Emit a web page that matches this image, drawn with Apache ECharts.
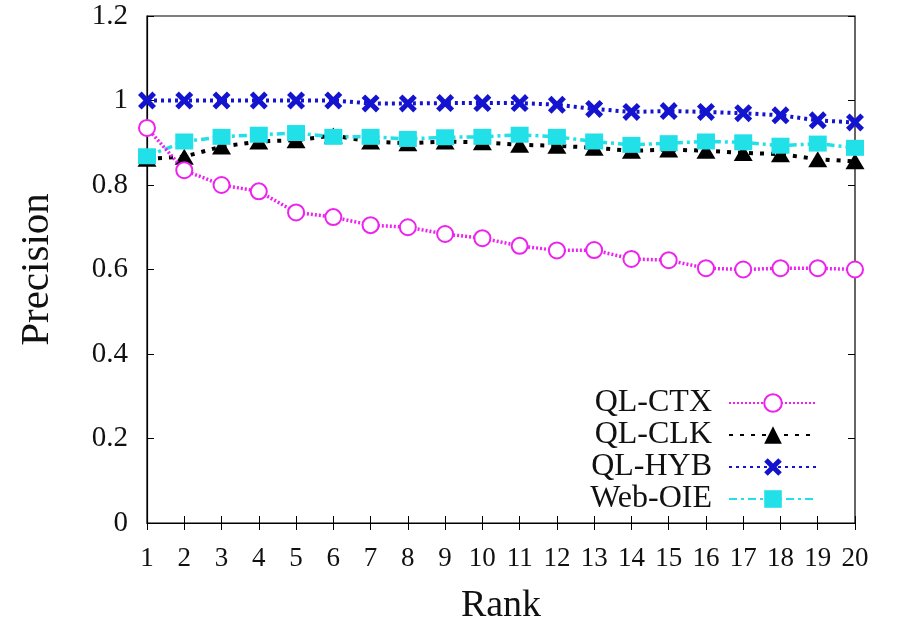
<!DOCTYPE html>
<html>
<head>
<meta charset="utf-8">
<script src="https://cdn.jsdelivr.net/npm/echarts@6/dist/echarts.min.js"></script>
<style>html,body{margin:0;padding:0;background:#fff;}#c{width:922px;height:621px;}</style>
</head>
<body>
<div id="c"></div>
<script>
const ranks = ['1','2','3','4','5','6','7','8','9','10','11','12','13','14','15','16','17','18','19','20'];
const qlCtx = [0.935,0.835,0.800,0.785,0.735,0.724,0.705,0.700,0.684,0.674,0.656,0.645,0.646,0.625,0.622,0.603,0.600,0.603,0.603,0.600];
const qlClk = [0.862,0.867,0.891,0.903,0.906,0.917,0.903,0.899,0.903,0.901,0.895,0.893,0.888,0.881,0.884,0.881,0.876,0.873,0.861,0.856];
const qlHyb = [1.000,1.000,1.000,1.000,1.000,1.000,0.993,0.993,0.994,0.994,0.994,0.990,0.980,0.973,0.975,0.973,0.970,0.965,0.953,0.948];
const webOie = [0.868,0.903,0.914,0.919,0.923,0.914,0.914,0.909,0.913,0.914,0.919,0.914,0.903,0.895,0.899,0.903,0.901,0.893,0.898,0.888];
const yTicks = [0,0.2,0.4,0.6,0.8,1,1.2];

const FONT = '"Liberation Serif", "DejaVu Serif", serif';
const xSym = 'path://M0,2 L2,0 L5,3 L8,0 L10,2 L7,5 L10,8 L8,10 L5,7 L2,10 L0,8 L3,5 Z';

const chart = echarts.init(document.getElementById('c'), null, {renderer:'canvas'});
const tickStyle = {show:true, inside:true, length:7, lineStyle:{color:'#000', width:1}};
chart.setOption({
  animation:false,
  backgroundColor:'#fff',
  grid:{left:147, right:67, top:16, bottom:98, show:true, borderColor:'#000', borderWidth:1.2,
    backgroundColor:'transparent', containLabel:false, outerBoundsMode:'none'},
  legend:{
    orient:'vertical', right:99, top:382, align:'right',
    itemWidth:88, itemHeight:22, itemGap:0,
    data:['QL-CTX','QL-CLK','QL-HYB','Web-OIE'],
    textStyle:{fontFamily:FONT, fontSize:32, color:'#111', padding:[0,12,0,0]}
  },
  xAxis:[{
    type:'category', data:ranks, boundaryGap:false,
    name:'Rank', nameLocation:'middle', nameGap:64,
    nameTextStyle:{fontFamily:FONT, fontSize:38, color:'#111'},
    axisLine:{show:true, lineStyle:{color:'#000', width:1.2}},
    axisTick:Object.assign({alignWithLabel:true}, tickStyle),
    axisLabel:{fontFamily:FONT, fontSize:27, color:'#111', margin:22},
    splitLine:{show:false}
  },{
    type:'category', data:ranks, boundaryGap:false, position:'top',
    axisLine:{show:false}, axisTick:tickStyle, axisLabel:{show:false}, splitLine:{show:false}
  }],
  yAxis:[{
    type:'value', min:0, max:1.2, interval:0.2,
    name:'Precision', nameLocation:'middle', nameGap:89,
    nameTextStyle:{fontFamily:FONT, fontSize:41, color:'#111'},
    axisLine:{show:true, lineStyle:{color:'#000', width:1.2}},
    axisTick:tickStyle,
    axisLabel:{fontFamily:FONT, fontSize:29, color:'#111', margin:19,
      formatter:function(v){ const t = yTicks.find(x=>Math.abs(x-v)<1e-9); return t===undefined? '' : String(t); }},
    splitLine:{show:false}
  },{
    type:'value', min:0, max:1.2, interval:0.2, position:'right',
    axisLine:{show:false}, axisTick:tickStyle, axisLabel:{show:false}, splitLine:{show:false}
  }],
  series:[
    {name:'QL-CTX', type:'line', data:qlCtx, symbol:'emptyCircle', symbolSize:16,
      lineStyle:{color:'#ee22ee', width:3.5, type:[2,2]},
      itemStyle:{color:'#ee22ee', borderColor:'#ee22ee', borderWidth:4.5}, z:4},
    {name:'QL-CLK', type:'line', data:qlClk, symbol:'triangle', symbolSize:[19,16],
      lineStyle:{color:'#000', width:4, type:[4,7]},
      itemStyle:{color:'#000'}, z:2},
    {name:'QL-HYB', type:'line', data:qlHyb, symbol:xSym, symbolSize:18,
      lineStyle:{color:'#1414d0', width:4, type:[3,4]},
      itemStyle:{color:'#1414d0'}, z:3},
    {name:'Web-OIE', type:'line', data:webOie, symbol:'rect', symbolSize:[18,16],
      lineStyle:{color:'#22e0e8', width:3.5, type:[8,4,3,4]},
      itemStyle:{color:'#22e0e8'}, z:3}
  ]
});
</script>
</body>
</html>
